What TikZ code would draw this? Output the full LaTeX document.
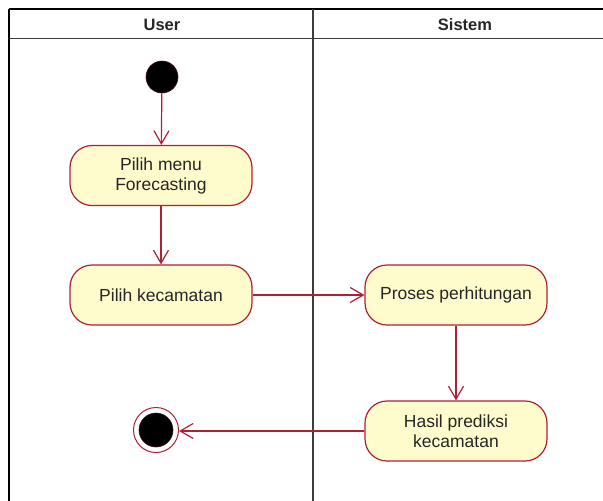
\documentclass[tikz,border=0pt]{standalone}
\usepackage{fontspec}
\setmainfont{Liberation Sans}
\usetikzlibrary{arrows.meta}
\definecolor{umlred}{RGB}{176,32,52}
\definecolor{umlfill}{RGB}{254,252,204}
\definecolor{lanegray}{RGB}{60,60,60}
\tikzset{
  lane/.style={draw=lanegray, line width=1.5pt},
  lanehead/.style={font=\fontsize{16.5}{18}\selectfont\bfseries, text=black!85},
  activity/.style={draw=umlred, fill=umlfill, line width=1.2pt, rounded corners=22pt,
    minimum width=182pt, minimum height=60pt, align=center, inner sep=0pt,
    font=\fontsize{17.5}{20}\selectfont, text=black!85},
  flow/.style={draw=umlred, line width=1.2pt, -{Straight Barb[length=13pt,width=15pt,line width=1.2pt]}},
  startnode/.style={circle, fill=black, draw=umlred!40!black, line width=0.6pt, minimum size=32pt, inner sep=0pt},
  endring/.style={circle, draw=umlred, fill=white, line width=1pt, minimum size=45pt, inner sep=0pt},
  enddot/.style={circle, fill=black, draw=umlred!40!black, line width=0.6pt, minimum size=34pt, inner sep=0pt}
}
\begin{document}
\begin{tikzpicture}[x=1pt,y=-1pt]
  \useasboundingbox (0,0) rectangle (603,501);
  % swimlane frame
  \draw[lane, draw=black] (9,9) -- (610,9);
  \draw[lane] (9,38.5) -- (610,38.5);
  \draw[lane, draw=black] (9,9) -- (9,510);
  \draw[lane] (313,9) -- (313,510);
  \node[lanehead] (userhead) at (162,25) {User};
  \node[lanehead] (sistemhead) at (465,25) {Sistem};
  % activities
  \node[startnode] (start) at (162,77) {};
  \node[activity] (menu) at (161,175.5) {Pilih menu\\Forecasting};
  \node[activity] (kec) at (161,295) {Pilih kecamatan};
  \node[activity] (proses) at (456,295) {Proses perhitungan};
  \node[activity] (hasil) at (456,431) {Hasil prediksi\\kecamatan};
  \node[endring] (stop) at (156,430) {};
  \node[enddot] (stopdot) at (stop.center) {};
  % control flow
  \draw[flow] (start) -- (menu);
  \draw[flow] (menu) -- (kec);
  \draw[flow] (kec) -- (proses);
  \draw[flow] (proses) -- (hasil);
  \draw[flow] (hasil.west) -- (stop.east |- hasil.west);
\end{tikzpicture}
\end{document}
